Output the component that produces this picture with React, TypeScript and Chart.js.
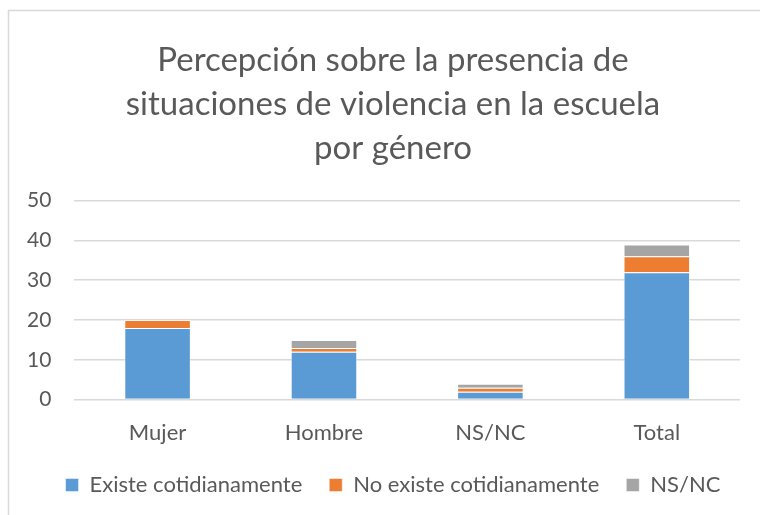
import React, { useEffect, useRef } from "react";
import { Chart, registerables } from "chart.js";

Chart.register(...registerables);

const categories = ["Mujer", "Hombre", "NS/NC", "Total"];
const existe = [18, 12, 2, 32];
const noExiste = [2, 1, 1, 4];
const nsnc = [0, 2, 1, 3];
const titleLines = ["Percepción sobre la presencia de", "situaciones de violencia en la escuela", "por género"];

const FONT = "Lato, 'Open Sans', sans-serif";
const TEXT = "#595959";
const LEGEND_PAD = 27;
const LEGEND_SHIFT = 11;

const frame = {
  id: "frame",
  beforeDraw(chart: any) {
    const ctx = chart.ctx;
    ctx.save();
    ctx.fillStyle = "#fff";
    ctx.fillRect(0, 0, chart.width, chart.height);
    ctx.strokeStyle = "#d9d9d9";
    ctx.lineWidth = 1.5;
    ctx.strokeRect(8.5, 10.5, 900, 700);
    ctx.restore();
  },
  afterLayout(chart: any) {
    // center title and legend on the chart frame (x 8 .. 778)
    for (const b of [chart.titleBlock, chart.legend]) {
      if (!b) continue;
      b.left = 8;
      b.right = 778;
      b.width = 770;
    }
    if (chart.legend) {
      chart.legend.top -= LEGEND_SHIFT;
      chart.legend.bottom -= LEGEND_SHIFT;
    }
  },
};

export default function App() {
  const ref = useRef<HTMLCanvasElement>(null);
  useEffect(() => {
    document.body.style.margin = "0";
    const chart = new Chart(ref.current!, {
      type: "bar",
      data: {
        labels: categories,
        datasets: [
          { label: "Existe cotidianamente", data: existe, backgroundColor: "#5B9BD5", borderColor: "rgba(255,255,255,0.5)", borderWidth: 1 },
          { label: "No existe cotidianamente", data: noExiste, backgroundColor: "#ED7D31", borderColor: "rgba(255,255,255,0.5)", borderWidth: 1 },
          { label: "NS/NC", data: nsnc, backgroundColor: "#A5A5A5", borderColor: "rgba(255,255,255,0.5)", borderWidth: 1 },
        ],
      },
      options: {
        responsive: false,
        animation: false,
        layout: { padding: { left: 4, right: 20, top: 38, bottom: 9 } },
        datasets: { bar: { barPercentage: 1, categoryPercentage: 0.4 } },
        plugins: {
          title: {
            display: true,
            text: titleLines,
            color: TEXT,
            font: { family: FONT, size: 33, weight: "normal", lineHeight: 1.34 },
            padding: { top: 0, bottom: 30 },
          },
          legend: {
            position: "bottom",
            maxHeight: 48,
            labels: {
              color: TEXT,
              font: { family: FONT, size: 22 },
              boxWidth: 13,
              boxHeight: 13,
              padding: LEGEND_PAD,
            },
          },
          tooltip: { enabled: false },
        },
        scales: {
          x: {
            stacked: true,
            grid: { display: false },
            border: { display: false },
            ticks: { color: TEXT, font: { family: FONT, size: 22 }, padding: 12 },
          },
          y: {
            stacked: true,
            min: 0,
            max: 50,
            ticks: { stepSize: 10, color: TEXT, font: { family: FONT, size: 21 }, padding: 23 },
            grid: { color: "#d9d9d9", lineWidth: 1.5, drawTicks: false },
            border: { display: false },
          },
        },
      },
      plugins: [frame],
    } as any);
    return () => chart.destroy();
  }, []);
  return (
    <div style={{ position: "absolute", left: 0, top: 0 }}>
      <canvas ref={ref} width={760} height={515} style={{ display: "block" }} />
    </div>
  );
}
